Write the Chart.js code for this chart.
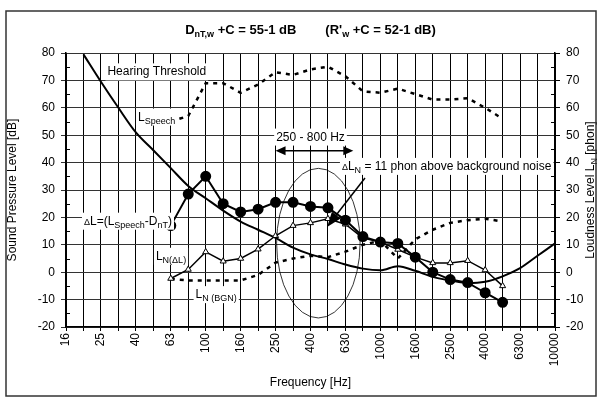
<!DOCTYPE html>
<html>
<head>
<meta charset="utf-8">
<script src="https://cdn.jsdelivr.net/npm/chart.js@4"></script>
<style>body{margin:0;background:#fff}</style>
</head>
<body>
<canvas id="chart" width="602" height="400"></canvas>
<script>
// 1/3 octave bands
const bands = ['16','20','25','31.5','40','50','63','80','100','125','160','200','250','315','400','500','630','800','1000','1250','1600','2000','2500','3150','4000','5000','6300','8000','10000'];

// values (dB / phon)
const hearingThreshold = [null,79.5,69.5,60,51,44.5,38,31.5,27,22.5,18.5,15.5,12.5,9,6.5,4.8,2.8,1.3,0.7,2.2,0.5,-1.7,-3,-4,-3.5,-1.5,1.5,6,10.5];
const speechLevel = [null,null,null,null,null,null,55,57,69,69,65.5,68.5,73,72,74,75,71.5,66,65.5,67,65,63,63,63.5,60,56,null,null,null];
const deltaL = [null,null,null,null,null,null,17,28.5,35,25,22,23,25.5,25.5,24,23.5,19,13,11,10.5,5.5,0,-2.7,-3.8,-7.5,-11,null,null,null];
const loudnessDeltaL = [null,null,null,null,null,null,-2.3,1,7.4,4,5,8.4,13.3,17,18,19.5,17.5,12.5,11,8.3,5.5,3.4,3.4,4.2,0.8,-5,null,null,null];
const loudnessBgn = [null,null,null,null,null,null,-2.5,-3,-3,-3,-3,-1,3.5,5,6,5.5,7.5,10,11.5,5,12,15.5,18,19,19.5,18.5,null,null,null];

const yMin = -20, yMax = 80;
const FONT = 'Arial, "Liberation Sans", sans-serif';

// draw a run of text pieces: [text, size, dy, bold]
function richText(ctx, parts, x, y, align, bg) {
    let w = 0;
    parts.forEach(p => {
        ctx.font = (p[3] ? 'bold ' : '') + p[1] + 'px ' + FONT;
        w += ctx.measureText(p[0]).width;
    });
    let x0 = align === 'center' ? x - w / 2 : (align === 'right' ? x - w : x);
    if (bg) {
        ctx.fillStyle = '#fff';
        ctx.fillRect(x0 - 2, y - 12, w + 4, 17);
    }
    ctx.fillStyle = '#000';
    ctx.textAlign = 'left';
    ctx.textBaseline = 'alphabetic';
    parts.forEach(p => {
        ctx.font = (p[3] ? 'bold ' : '') + p[1] + 'px ' + FONT;
        ctx.fillText(p[0], x0, y + (p[2] || 0));
        x0 += ctx.measureText(p[0]).width;
    });
}

function arrowHead(ctx, x1, y1, x2, y2, len, wid) {
    const a = Math.atan2(y2 - y1, x2 - x1);
    ctx.beginPath();
    ctx.moveTo(x2, y2);
    ctx.lineTo(x2 - len * Math.cos(a) + wid / 2 * Math.sin(a), y2 - len * Math.sin(a) - wid / 2 * Math.cos(a));
    ctx.lineTo(x2 - len * Math.cos(a) - wid / 2 * Math.sin(a), y2 - len * Math.sin(a) + wid / 2 * Math.cos(a));
    ctx.closePath();
    ctx.fill();
}

const annotations = {
    id: 'annotations',
    afterDatasetsDraw(chart) {
        const ctx = chart.ctx;
        const xs = chart.scales.x, ys = chart.scales.y;
        const px = i => xs.getPixelForValue(0) + i * (xs.getPixelForValue(1) - xs.getPixelForValue(0));
        const py = v => ys.getPixelForValue(v);
        const area = chart.chartArea;
        ctx.save();

        // minor ticks at 5 dB, inside the plot
        ctx.strokeStyle = '#000';
        ctx.lineWidth = 1;
        for (let v = yMin + 5; v < yMax; v += 10) {
            const y = Math.round(py(v)) + 0.5;
            ctx.beginPath();
            ctx.moveTo(area.left, y); ctx.lineTo(area.left + 4, y);
            ctx.moveTo(area.right, y); ctx.lineTo(area.right - 4, y);
            ctx.stroke();
        }

        // ellipse round 250 - 800 Hz
        ctx.lineWidth = 0.8;
        ctx.beginPath();
        ctx.ellipse(px(14.45), py(10.6), px(2.39) - px(0), py(0) - py(27.3), 0, 0, Math.PI * 2);
        ctx.stroke();

        // double arrow
        ctx.fillStyle = '#000';
        ctx.lineWidth = 1.5;
        const ay = py(44.3);
        ctx.beginPath();
        ctx.moveTo(px(12) + 6, ay); ctx.lineTo(px(16.45) - 6, ay);
        ctx.stroke();
        arrowHead(ctx, px(16.45) - 20, ay, px(16.45), ay, 10, 9);
        arrowHead(ctx, px(12) + 20, ay, px(12), ay, 10, 9);

        // diagonal arrow
        const dx1 = px(17.12), dy1 = py(34.4), dx2 = px(14.95), dy2 = py(16.5);
        ctx.beginPath();
        ctx.moveTo(dx1, dy1); ctx.lineTo(dx2 + 6, dy2 - 8);
        ctx.stroke();
        arrowHead(ctx, dx1, dy1, dx2, dy2, 15, 11);

        // labels
        richText(ctx, [['Hearing Threshold', 12]], px(5.2), py(73.3) + 4, 'center', true);
        richText(ctx, [['L', 12], ['Speech', 9, 3]], px(6.25), py(56.8) + 4, 'right', true);
        richText(ctx, [['250 - 800 Hz', 12]], px(14.0), py(49.5) + 4, 'center', true);
        richText(ctx, [['\u0394', 9], ['L', 12], ['N', 9, 3], [' = 11 phon above background noise', 12]], px(15.8), py(38.8) + 4, 'left', true);
        richText(ctx, [['\u0394', 9], ['L=(L', 12], ['Speech', 9, 3], ['-D', 12], ['nT', 9, 3], [')', 12]], px(6.07), py(18.8) + 4, 'right', true);
        richText(ctx, [['L', 12], ['N(\u0394L)', 9, 3]], px(5.15), py(6) + 4, 'left', true);
        richText(ctx, [['L', 12], ['N (BGN)', 9, 3]], px(8.6), py(-8) + 4, 'center', true);

        ctx.restore();
    },
    afterDraw(chart) {
        const ctx = chart.ctx;
        const area = chart.chartArea;
        ctx.save();
        // title
        richText(ctx, [['D', 13, 0, true], ['nT,w', 9, 3, true], [' +C = 55-1 dB', 13, 0, true],
            ['        (R\'', 13, 0, true], ['w', 9, 3, true], [' +C = 52-1 dB)', 13, 0, true]],
            (area.left + area.right) / 2, 34, 'center', false);
        // left axis title
        ctx.save();
        ctx.translate(16, (area.top + area.bottom) / 2);
        ctx.rotate(-Math.PI / 2);
        richText(ctx, [['Sound Pressure Level [dB]', 12]], 0, 0, 'center', false);
        ctx.restore();
        // right axis title
        ctx.save();
        ctx.translate(594, (area.top + area.bottom) / 2);
        ctx.rotate(-Math.PI / 2);
        richText(ctx, [['Loudness Level L', 12], ['N', 9, 3], [' [phon]', 12]], 0, 0, 'center', false);
        ctx.restore();
        // outer frame
        ctx.strokeStyle = '#333';
        ctx.lineWidth = 1.5;
        ctx.strokeRect(6, 11, 590, 385);
        ctx.restore();
    }
};

const ctx = document.getElementById('chart').getContext('2d');

const chart = new Chart(ctx, {
    type: 'line',
    data: {
        labels: bands,
        datasets: [
            {
                label: 'Delta L',
                data: deltaL,
                borderColor: '#000',
                backgroundColor: '#000',
                borderWidth: 2,
                pointStyle: 'circle',
                pointRadius: 4.5,
                pointBackgroundColor: '#000',
                tension: 0
            },
            {
                label: 'LN(Delta L)',
                data: loudnessDeltaL,
                borderColor: '#000',
                borderWidth: 1.5,
                pointStyle: 'triangle',
                pointRadius: 3.5,
                pointBackgroundColor: '#fff',
                pointBorderColor: '#000',
                pointBorderWidth: 1,
                tension: 0
            },
            {
                label: 'Hearing Threshold',
                data: hearingThreshold,
                borderColor: '#000',
                borderWidth: 2,
                pointRadius: 0,
                tension: 0.4,
                cubicInterpolationMode: 'monotone'
            },
            {
                label: 'L Speech',
                data: speechLevel,
                borderColor: '#000',
                borderWidth: 2.5,
                borderDash: [4, 5],
                pointRadius: 0,
                tension: 0
            },
            {
                label: 'LN (BGN)',
                data: loudnessBgn,
                borderColor: '#000',
                borderWidth: 2.5,
                borderDash: [4, 5],
                pointRadius: 0,
                tension: 0
            }
        ]
    },
    options: {
        responsive: false,
        animation: false,
        devicePixelRatio: 1,
        layout: { padding: { top: 53, left: 0, right: 0, bottom: 0 } },
        plugins: {
            legend: { display: false },
            tooltip: { enabled: false }
        },
        scales: {
            x: {
                type: 'category',
                offset: false,
                afterFit: s => { s.height = 73; },
                grid: { color: '#000', lineWidth: 1, tickLength: 4 },
                border: { color: '#000', width: 1.5 },
                ticks: {
                    autoSkip: false,
                    minRotation: 90,
                    maxRotation: 90,
                    padding: 2,
                    color: '#000',
                    font: { family: FONT, size: 12 },
                    callback: function (v, i) { return i % 2 === 0 ? bands[i] : ''; }
                },
                title: {
                    display: true,
                    text: 'Frequency [Hz]',
                    color: '#000',
                    font: { family: FONT, size: 12 },
                    padding: { top: 0, bottom: 10 }
                }
            },
            y: {
                position: 'left',
                min: yMin,
                max: yMax,
                afterFit: s => { s.width = 66; },
                grid: { color: '#333', lineWidth: 1, tickLength: 5 },
                border: { color: '#000', width: 1.5 },
                ticks: { stepSize: 10, padding: 6, color: '#000', font: { family: FONT, size: 12 } }
            },
            y2: {
                position: 'right',
                min: yMin,
                max: yMax,
                afterFit: s => { s.width = 47; },
                grid: { drawOnChartArea: false, color: '#000', tickLength: 5 },
                border: { color: '#000', width: 1.5 },
                ticks: { stepSize: 10, padding: 6, color: '#000', font: { family: FONT, size: 12 } }
            }
        }
    },
    plugins: [annotations]
});
</script>
</body>
</html>
